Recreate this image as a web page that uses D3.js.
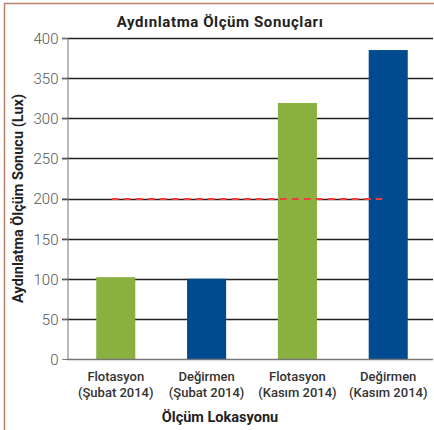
<!DOCTYPE html>
<html lang="tr">
<head>
  <meta charset="UTF-8">
  <title>Aydınlatma Ölçüm Sonuçları</title>
  <script src="https://d3js.org/d3.v7.min.js"></script>
  <style>
    body { margin: 0; background: #fff; }
    text { font-family: Roboto, "DejaVu Sans", sans-serif; }
    .tick text { fill: #555; font-size: 15px; font-weight: 300; }
    .xlab { fill: #333; font-size: 13px; font-weight: 500; }
    .axis-title { fill: #222; font-size: 14.5px; font-weight: bold; }
    .chart-title { fill: #222; font-size: 15px; font-weight: bold; letter-spacing: 0.6px; }
  </style>
</head>
<body>
  <script>
    // veriler
    const locations = ['Flotasyon', 'Değirmen', 'Flotasyon', 'Değirmen'];
    const periods = ['(Şubat 2014)', '(Şubat 2014)', '(Kasım 2014)', '(Kasım 2014)'];
    const values = [102, 100, 319, 385];
    const barColors = ['#8ab13f', '#004b8f', '#8ab13f', '#004b8f'];
    const yTicks = [0, 50, 100, 150, 200, 250, 300, 350, 400];
    const limitValue = 200;

    const width = 434, height = 430;
    const margin = { top: 38, right: 1, bottom: 71, left: 67 };

    const svg = d3.select('body').append('svg')
      .attr('width', width)
      .attr('height', height);

    // çerçeve
    svg.append('path')
      .attr('d', `M4.5,${height} V3.5 H${width}`)
      .attr('fill', 'none')
      .attr('stroke', '#b8836a')
      .attr('stroke-width', 1.5);

    const x = d3.scaleBand()
      .domain(d3.range(values.length))
      .range([margin.left + 2, width + 1])
      .paddingInner(0.57)
      .paddingOuter(0.3);

    const y = d3.scaleLinear()
      .domain([0, 400])
      .range([height - margin.bottom, margin.top]);

    // yatay çizgiler
    svg.append('g')
      .selectAll('line')
      .data(yTicks.filter(d => d > 0))
      .enter().append('line')
      .attr('x1', margin.left - 5)
      .attr('x2', width - margin.right)
      .attr('y1', d => Math.round(y(d)) + 0.5)
      .attr('y2', d => Math.round(y(d)) + 0.5)
      .attr('stroke', '#222')
      .attr('stroke-width', 1.3);

    // y ekseni
    const yAxis = svg.append('g')
      .attr('transform', `translate(${margin.left + 0.5},0)`)
      .call(d3.axisLeft(y).tickValues(yTicks).tickSize(5).tickPadding(4));
    yAxis.select('.domain').attr('stroke', '#777');
    yAxis.selectAll('.tick line').attr('stroke', '#777');
    yAxis.selectAll('.tick text').attr('dy', '0.36em');

    // çubuklar
    svg.append('g')
      .selectAll('rect')
      .data(values)
      .enter().append('rect')
      .attr('x', (d, i) => x(i))
      .attr('y', d => y(d))
      .attr('width', x.bandwidth())
      .attr('height', d => y(0) - y(d))
      .attr('fill', (d, i) => barColors[i]);

    // x ekseni çizgisi
    svg.append('line')
      .attr('x1', margin.left)
      .attr('x2', width - margin.right)
      .attr('y1', y(0) + 0.5)
      .attr('y2', y(0) + 0.5)
      .attr('stroke', '#777')
      .attr('stroke-width', 1.3);

    // sınır değeri çizgisi
    const firstC = x(0) + x.bandwidth() / 2;
    const lastC = x(values.length - 1) + x.bandwidth() / 2;
    svg.append('line')
      .attr('x1', firstC - 4)
      .attr('x2', lastC - 6)
      .attr('y1', y(limitValue) + 0.5)
      .attr('y2', y(limitValue) + 0.5)
      .attr('stroke', '#f03c3c')
      .attr('stroke-width', 2)
      .attr('stroke-dasharray', '7,5');

    // x etiketleri
    const xl = svg.append('g');
    locations.forEach((loc, i) => {
      const cx = x(i) + x.bandwidth() / 2;
      xl.append('text').attr('class', 'xlab')
        .attr('x', cx).attr('y', y(0) + 22)
        .attr('text-anchor', 'middle').text(loc);
      xl.append('text').attr('class', 'xlab')
        .attr('x', cx).attr('y', y(0) + 38)
        .attr('text-anchor', 'middle').text(periods[i]);
    });

    // başlıklar
    svg.append('text')
      .attr('class', 'chart-title')
      .attr('x', 220).attr('y', 27)
      .attr('text-anchor', 'middle')
      .text('Aydınlatma Ölçüm Sonuçları');

    svg.append('text')
      .attr('class', 'axis-title')
      .attr('x', 220).attr('y', 422)
      .attr('text-anchor', 'middle')
      .text('Ölçüm Lokasyonu');

    svg.append('text')
      .attr('class', 'axis-title')
      .attr('transform', `translate(23,${y(200)}) rotate(-90)`)
      .attr('text-anchor', 'middle')
      .text('Aydınlatma Ölçüm Sonucu (Lux)');
  </script>
</body>
</html>
